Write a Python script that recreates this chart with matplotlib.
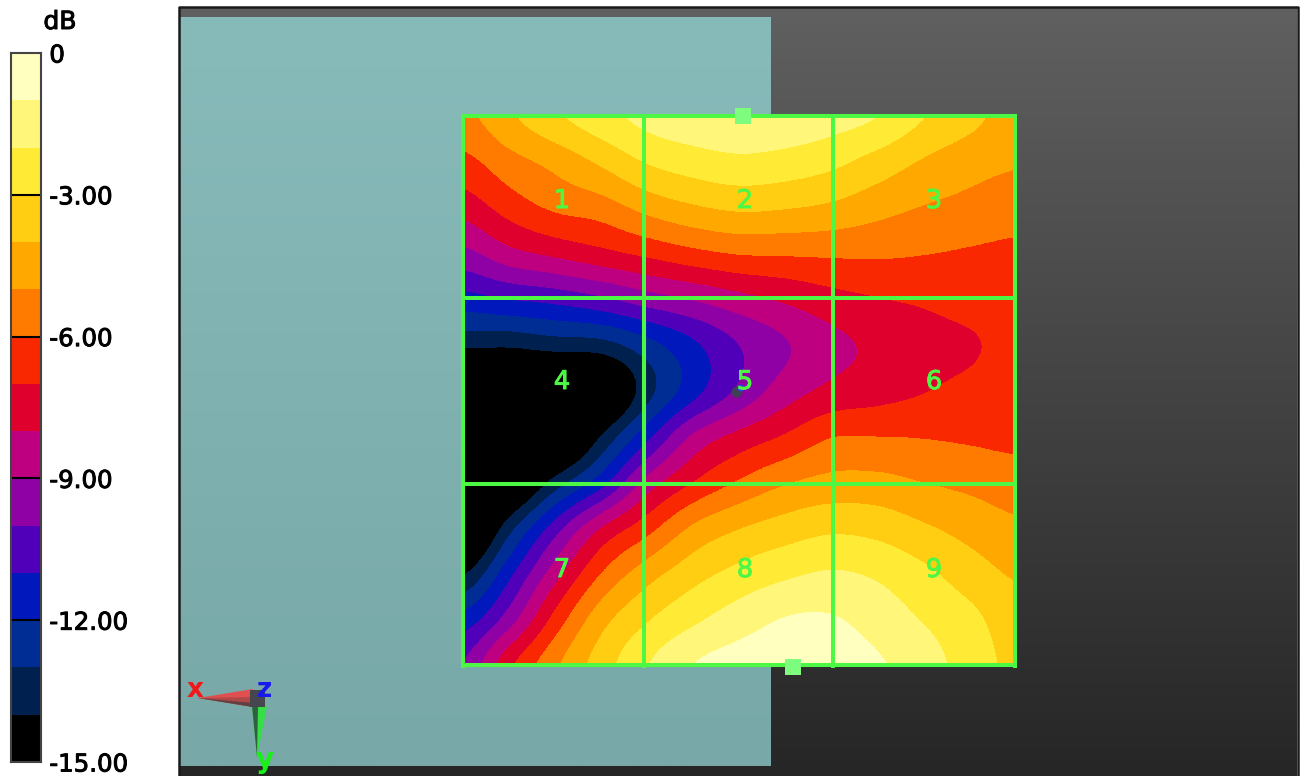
import numpy as np
import matplotlib
matplotlib.use("Agg")
import matplotlib.pyplot as plt
import matplotlib.patheffects as pe
from matplotlib.colors import ListedColormap, BoundaryNorm, LinearSegmentedColormap
from matplotlib.patches import Rectangle, Polygon, Circle

# dB values, one list per row of a 13 x 13 sampling of the panel
row_01 = [-5.3, -4.2, -3.2, -2.4, -1.7, -1.35, -1.2, -1.3, -1.6, -2.0, -2.95, -3.7, -4.4]
row_02 = [-6.3, -5.4, -4.7, -3.85, -2.95, -2.5, -2.25, -2.4, -2.75, -3.4, -4.1, -4.6, -4.9]
row_03 = [-7.6, -6.6, -5.85, -5.5, -4.7, -4.15, -3.85, -3.95, -4.2, -4.65, -5.05, -5.3, -5.55]
row_04 = [-9.3, -8.35, -7.8, -7.3, -6.8, -6.3, -5.95, -5.9, -5.85, -5.85, -5.97, -6.1, -6.2]
row_05 = [-11.4, -11.0, -10.7, -10.2, -9.5, -8.95, -8.35, -7.85, -7.35, -7.05, -6.85, -6.55, -6.4]
row_06 = [-13.8, -13.85, -13.55, -13.4, -12.4, -11.2, -10.0, -9.1, -8.3, -7.8, -7.45, -7.15, -6.6]
row_07 = [-16.5, -16.5, -16.5, -16.0, -13.4, -11.4, -9.8, -8.5, -7.75, -7.4, -7.05, -6.7, -6.4]
row_08 = [-16.5, -16.5, -16.5, -13.95, -11.3, -8.85, -7.7, -6.9, -6.05, -6.0, -6.05, -6.15, -6.25]
row_09 = [-16.5, -16.0, -13.6, -11.45, -8.65, -7.0, -5.9, -5.1, -4.7, -4.7, -5.0, -5.25, -5.5]
row_10 = [-16.5, -13.4, -10.5, -8.0, -6.4, -4.85, -4.05, -3.55, -3.2, -3.35, -3.85, -4.35, -4.8]
row_11 = [-14.1, -11.3, -8.45, -6.0, -4.45, -3.4, -2.7, -2.2, -1.9, -2.15, -2.75, -3.5, -4.1]
row_12 = [-11.6, -9.5, -6.65, -4.4, -3.1, -2.2, -1.5, -0.95, -0.9, -1.45, -2.05, -2.7, -3.55]
row_13 = [-9.9, -7.25, -5.2, -3.5, -2.05, -1.0, -0.55, -0.35, -0.3, -0.85, -1.55, -2.4, -3.25]

levels = list(range(-15, 1))
tick_values = [0, -3, -6, -9, -12, -15]
tick_labels = ["0", "-3.00", "-6.00", "-9.00", "-12.00", "-15.00"]
band_colors = ["#000000", "#002050", "#002D94", "#0018BC", "#5000B8",
               "#8F00A5", "#BE0080", "#E0002D", "#F92800", "#FF7B00",
               "#FFA800", "#FFCD12", "#FFEA35", "#FFF67A", "#FFFFC0"]
cell_labels = ["1", "2", "3", "4", "5", "6", "7", "8", "9"]

green = "#4DF844"
thick = [pe.withStroke(linewidth=0.7, foreground="black")]

cmap = ListedColormap(band_colors)
cmap.set_under("#000000")
cmap.set_over("#FFFFC0")
norm = BoundaryNorm(levels, cmap.N)

fig = plt.figure(figsize=(13.05, 7.76), dpi=100, facecolor="white")

# everything but the colour bar sits in one axes that counts in picture pixels
ax = fig.add_axes([0, 0, 1, 1])
ax.axis("off")

# dark background and plate, both with a soft vertical gradient
dark = LinearSegmentedColormap.from_list("dark", ["#606060", "#262626"])
ax.imshow(np.linspace(0, 1, 256).reshape(-1, 1), cmap=dark, aspect="auto",
          extent=(180, 1297, 776, 7), zorder=1)
plate = LinearSegmentedColormap.from_list("plate", ["#87BBBA", "#78A8A8"])
ax.imshow(np.linspace(0, 1, 256).reshape(-1, 1), cmap=plate, aspect="auto",
          extent=(180, 771, 766, 17), zorder=2)
ax.plot([179, 179, 1297.5, 1297.5], [776, 6.5, 6.5, 776], color="#1a1a1a", lw=1.8, zorder=3)

# response map
grid = np.array([row_01, row_02, row_03, row_04, row_05, row_06, row_07,
                 row_08, row_09, row_10, row_11, row_12, row_13])
im = ax.imshow(grid, cmap=cmap, norm=norm, aspect="auto", interpolation="catrom",
               interpolation_stage="data", extent=(440, 1038, 688, 94), zorder=4)
im.set_clip_path(Rectangle((463, 117), 552, 548, transform=ax.transData))

# green cell grid
for x in [463, 644, 833, 1015]:
    ax.plot([x, x], [116, 666], color=green, lw=2.9, solid_capstyle="projecting", zorder=5)
for y in [116, 298, 484, 665]:
    ax.plot([463, 1015], [y, y], color=green, lw=2.9, solid_capstyle="projecting", zorder=5)
for (cx, cy) in [(743, 116), (793, 667)]:
    ax.add_patch(Rectangle((cx - 8, cy - 8), 16, 16, color="#7DFC7D", lw=0, zorder=6))

i = 0
for cy in [201, 382, 570]:
    for cx in [562, 745, 934]:
        ax.text(cx, cy, cell_labels[i], color=green, fontsize=18.5, ha="center",
                va="center", zorder=7,
                path_effects=[pe.withStroke(linewidth=0.7, foreground=green)])
        i += 1

# probe point in the middle cell
ax.add_patch(Circle((737, 392), 5.5, color="#3f3f55", lw=0, zorder=6))
ax.add_patch(Circle((741, 388), 3.5, color="#3040e0", lw=0, zorder=6))

# axis triad
ax.add_patch(Polygon([[198, 698], [253, 689], [253, 707]], color="#e05050", lw=0, zorder=6))
ax.add_patch(Polygon([[198, 698], [253, 697], [253, 707]], color="#b04848", lw=0, zorder=7))
ax.add_patch(Polygon([[198, 698], [253, 703], [253, 707]], color="#604040", lw=0, zorder=7))
ax.add_patch(Polygon([[257, 757], [252, 706], [267, 706]], color="#35e045", lw=0, zorder=6))
ax.add_patch(Polygon([[257, 757], [252, 706], [258, 706]], color="#305f40", lw=0, zorder=7))
ax.add_patch(Rectangle((250, 690), 15, 17, color="#46464e", lw=0, zorder=8))
ax.text(195, 690, "x", color="#f01818", fontsize=19, fontweight="bold", ha="center",
        va="center", zorder=9)
ax.text(265, 690, "z", color="#1818f0", fontsize=19, fontweight="bold", ha="center",
        va="center", zorder=9)
ax.text(265, 760, "y", color="#18f018", fontsize=20, fontweight="bold", ha="center",
        va="center", zorder=9)

ax.set_xlim(0, 1305)
ax.set_ylim(776, 0)

# colour bar
cax = fig.add_axes([11 / 1305, 1 - 762 / 776, 30 / 1305, 709 / 776])
cax.pcolormesh([0, 1], levels, np.arange(15).reshape(-1, 1), cmap=cmap,
               vmin=-0.5, vmax=14.5)
cax.set_xticks([])
cax.set_ylim(-15, 0)
cax.yaxis.tick_right()
cax.set_yticks(tick_values)
cax.set_yticklabels(tick_labels, fontsize=17.6, path_effects=thick)
cax.tick_params(axis="y", length=0, pad=6)
for v in tick_values[1:-1]:
    cax.axhline(v, color="black", lw=1.5)
for s in cax.spines.values():
    s.set_color("#444444")
    s.set_linewidth(1.5)

fig.text(60 / 1305, 1 - 22 / 776, "dB", fontsize=18, ha="center", va="center",
         path_effects=thick)

fig.savefig("out.png", dpi=100)
